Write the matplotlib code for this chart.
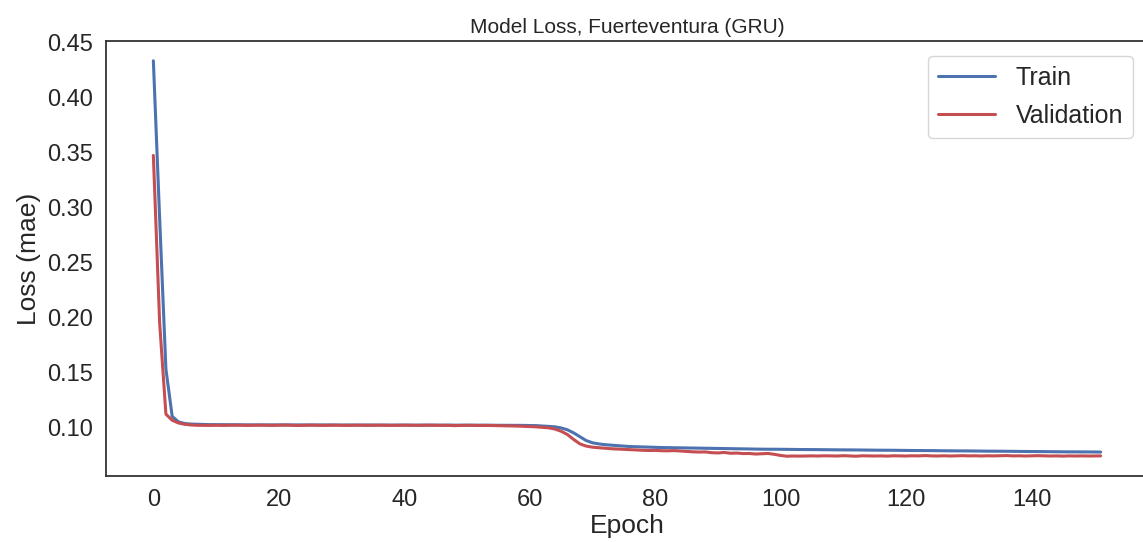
import matplotlib
matplotlib.use("Agg")
import matplotlib.pyplot as plt
import seaborn as sns
import numpy as np

train_loss = [
    0.433, 0.290, 0.153, 0.110, 0.105, 0.1035, 0.1030,
    0.1028, 0.1026, 0.1025, 0.1025, 0.1024, 0.1024, 0.1024, 0.1023, 0.1023, 0.1023,
    0.1023, 0.1023, 0.1022, 0.1022, 0.1023, 0.1022, 0.1022, 0.1022, 0.1022, 0.1022,
    0.1022, 0.1022, 0.1022, 0.1021, 0.1022, 0.1021, 0.1021, 0.1022, 0.1021, 0.1021,
    0.1021, 0.1021, 0.1021, 0.1021, 0.1021, 0.1021, 0.1020, 0.1021, 0.1020, 0.1020,
    0.1020, 0.1020, 0.1020, 0.1020, 0.1020, 0.1020, 0.1020, 0.1019, 0.1019, 0.1019,
    0.1019, 0.1019, 0.1018, 0.1017,
    0.1016, 0.1013, 0.1009, 0.1005, 0.0995, 0.0978, 0.0950, 0.0915, 0.0880, 0.0860,
    0.0850, 0.0843, 0.0838, 0.0834, 0.0830,
    0.0826, 0.0824, 0.0822, 0.0820, 0.0818, 0.0817, 0.0816, 0.0815, 0.0814, 0.0813,
    0.0812, 0.0811, 0.0810, 0.0809, 0.0808, 0.0807, 0.0806, 0.0805, 0.0804, 0.0803,
    0.0803, 0.0802, 0.0802, 0.0801, 0.0801, 0.0800, 0.0800, 0.0799, 0.0799, 0.0798,
    0.0798, 0.0797, 0.0797, 0.0796, 0.0796, 0.0795, 0.0795, 0.0794, 0.0794, 0.0793,
    0.0793, 0.0792, 0.0792, 0.0791, 0.0791, 0.0790, 0.0790, 0.0789, 0.0789, 0.0788,
    0.0788, 0.0787, 0.0787, 0.0786, 0.0786, 0.0785, 0.0785, 0.0784, 0.0784, 0.0783,
    0.0783, 0.0782, 0.0782, 0.0781, 0.0781, 0.0780, 0.0780, 0.0779, 0.0779, 0.0778,
    0.0778, 0.0778, 0.0777, 0.0777, 0.0776, 0.0776,
]

val_loss = [
    0.347, 0.195, 0.112, 0.1065, 0.1040, 0.1028, 0.1022,
    0.1019, 0.1018, 0.1018, 0.1019, 0.1018, 0.1019, 0.1020, 0.1019, 0.1018, 0.1019,
    0.1020, 0.1019, 0.1018, 0.1019, 0.1021, 0.1019, 0.1017, 0.1019, 0.1020, 0.1019,
    0.1018, 0.1019, 0.1020, 0.1019, 0.1018, 0.1019, 0.1020, 0.1018, 0.1019, 0.1020,
    0.1019, 0.1018, 0.1019, 0.1020, 0.1019, 0.1018, 0.1019, 0.1020, 0.1019, 0.1018,
    0.1019, 0.1016, 0.1018, 0.1019, 0.1018, 0.1017, 0.1018, 0.1017, 0.1016, 0.1015,
    0.1014, 0.1012, 0.1010, 0.1008,
    0.1005, 0.1000, 0.0996, 0.0985, 0.0965,
    0.0935, 0.0890, 0.0850, 0.0830, 0.0820, 0.0815, 0.0810, 0.0806, 0.0803, 0.0800,
    0.0797, 0.0795, 0.0792, 0.0790, 0.0791, 0.0788, 0.0787, 0.0789, 0.0785, 0.0780,
    0.0778, 0.0776, 0.0777, 0.0770, 0.0768, 0.0772, 0.0765, 0.0767, 0.0762, 0.0763,
    0.0758, 0.0760, 0.0763, 0.0755, 0.0745, 0.0738, 0.0740, 0.0739, 0.0740, 0.0741,
    0.0740, 0.0742, 0.0741, 0.0740, 0.0743, 0.0741, 0.0738, 0.0742, 0.0741, 0.0740,
    0.0741, 0.0739, 0.0742, 0.0741, 0.0740, 0.0742, 0.0741, 0.0744, 0.0741, 0.0740,
    0.0742, 0.0740, 0.0741, 0.0743, 0.0741, 0.0742, 0.0740, 0.0742, 0.0741, 0.0743,
    0.0744, 0.0741, 0.0742, 0.0740, 0.0741, 0.0743, 0.0741, 0.0740, 0.0741, 0.0739,
    0.0741, 0.0740, 0.0741, 0.0740, 0.0741, 0.0741,
]

series_labels = ["Train", "Validation"]
title = "Model Loss, Fuerteventura (GRU)"

sns.set_theme(style="white")
plt.rcParams["font.family"] = ["Liberation Sans", "DejaVu Sans"]

fig = plt.figure(figsize=(11.43, 5.42), dpi=100)
ax = fig.add_axes([106 / 1143, 66 / 542, 1042 / 1143, 435 / 542])

ax.plot(np.arange(len(train_loss)), train_loss, color="#4C72B0", lw=2.2, label=series_labels[0])
ax.plot(np.arange(len(val_loss)), val_loss, color="#C44E52", lw=2.2, label=series_labels[1])

ax.set_title(title, fontsize=15, color="#262626")
ax.set_xlabel("Epoch", fontsize=19, labelpad=2)
ax.set_ylabel("Loss (mae)", fontsize=19)
ax.tick_params(axis="both", labelsize=17)
ax.set_yticks([0.10, 0.15, 0.20, 0.25, 0.30, 0.35, 0.40, 0.45])
ax.set_xticks([0, 20, 40, 60, 80, 100, 120, 140])
for s in ax.spines.values():
    s.set_color("#333333")
    s.set_linewidth(1.3)
ax.legend(loc="upper right", fontsize=18, handlelength=2.3, labelspacing=0.55,
          frameon=True, borderaxespad=0.6)

fig.savefig("out.png", dpi=100)
